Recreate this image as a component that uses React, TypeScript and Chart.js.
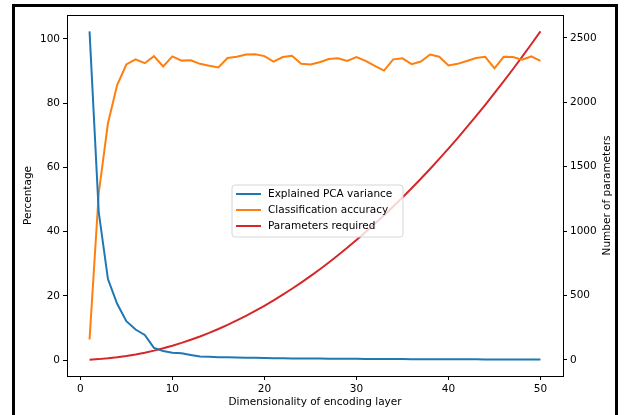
import React, { useEffect, useRef } from "react";
import { Chart, registerables } from "chart.js";

Chart.register(...registerables);

const dims = [1, 2, 3, 4, 5, 6, 7, 8, 9, 10, 11, 12, 13, 14, 15, 16, 17, 18, 19, 20, 21, 22, 23, 24, 25, 26, 27, 28, 29, 30, 31, 32, 33, 34, 35, 36, 37, 38, 39, 40, 41, 42, 43, 44, 45, 46, 47, 48, 49, 50];

const pcaVariance = [102.3, 46, 25.2, 17.5, 12.1, 9.5, 7.8, 3.8, 2.8, 2.3, 2.1, 1.6, 1.1, 1.0, 0.9, 0.85, 0.8, 0.75, 0.7, 0.68, 0.6, 0.55, 0.52, 0.5, 0.48, 0.46, 0.44, 0.42, 0.4, 0.38, 0.36, 0.35, 0.33, 0.32, 0.3, 0.29, 0.28, 0.27, 0.26, 0.25, 0.24, 0.23, 0.22, 0.21, 0.2, 0.19, 0.18, 0.17, 0.16, 0.15];

const accuracy = [6.4, 52, 73.7, 85.6, 92.0, 93.6, 92.4, 94.6, 91.4, 94.5, 93.2, 93.3, 92.2, 91.6, 91.1, 94.0, 94.4, 95.1, 95.2, 94.6, 92.9, 94.3, 94.7, 92.2, 92.0, 92.7, 93.7, 93.9, 93.1, 94.3, 93.1, 91.6, 90.1, 93.6, 93.9, 92.1, 92.9, 95.1, 94.4, 91.7, 92.2, 93.1, 94.0, 94.4, 90.8, 94.4, 94.3, 93.5, 94.5, 93.1];

const parameters = [2, 6, 12, 20, 30, 42, 56, 72, 90, 110, 132, 156, 182, 210, 240, 272, 306, 342, 380, 420, 462, 506, 552, 600, 650, 702, 756, 812, 870, 930, 992, 1056, 1122, 1190, 1260, 1332, 1406, 1482, 1560, 1640, 1722, 1806, 1892, 1980, 2070, 2162, 2256, 2352, 2450, 2550];

const xTicks = [0, 10, 20, 30, 40, 50];
const leftTicks = [0, 20, 40, 60, 80, 100];
const rightTicks = [0, 500, 1000, 1500, 2000, 2500];

const seriesNames = ["Explained PCA variance", "Classification accuracy", "Parameters required"];
const seriesColors = ["#1f77b4", "#ff7f0e", "#d62728"];

const xTitle = "Dimensionality of encoding layer";
const leftTitle = "Percentage";
const rightTitle = "Number of parameters";

const FONT = "DejaVu Sans";

const decorPlugin = {
  id: "decor",
  afterDraw(chart: any) {
    const { ctx, chartArea } = chart;
    const ca = chartArea;
    ctx.save();
    ctx.strokeStyle = "#000";
    ctx.lineWidth = 1;
    ctx.strokeRect(Math.round(ca.left) + 0.5, Math.round(ca.top) + 0.5, Math.round(ca.right - ca.left), Math.round(ca.bottom - ca.top));

    ctx.fillStyle = "#000";
    ctx.font = `10.5px '${FONT}'`;
    ctx.textAlign = "center";
    ctx.textBaseline = "middle";
    ctx.fillText(xTitle, (ca.left + ca.right) / 2, 402);
    ctx.save();
    ctx.translate(28, (ca.top + ca.bottom) / 2);
    ctx.rotate(-Math.PI / 2);
    ctx.fillText(leftTitle, 0, 0);
    ctx.restore();
    ctx.save();
    ctx.translate(607, (ca.top + ca.bottom) / 2);
    ctx.rotate(-Math.PI / 2);
    ctx.fillText(rightTitle, 0, 0);
    ctx.restore();

    const bx = ca.left + 165;
    const by = ca.top + 170;
    const bw = 171;
    const bh = 52;
    const r = 3;
    ctx.beginPath();
    ctx.moveTo(bx + r, by);
    ctx.lineTo(bx + bw - r, by);
    ctx.quadraticCurveTo(bx + bw, by, bx + bw, by + r);
    ctx.lineTo(bx + bw, by + bh - r);
    ctx.quadraticCurveTo(bx + bw, by + bh, bx + bw - r, by + bh);
    ctx.lineTo(bx + r, by + bh);
    ctx.quadraticCurveTo(bx, by + bh, bx, by + bh - r);
    ctx.lineTo(bx, by + r);
    ctx.quadraticCurveTo(bx, by, bx + r, by);
    ctx.closePath();
    ctx.fillStyle = "rgba(255,255,255,0.8)";
    ctx.fill();
    ctx.strokeStyle = "#d6d6d6";
    ctx.lineWidth = 1;
    ctx.stroke();
    ctx.textAlign = "left";
    ctx.textBaseline = "middle";
    ctx.font = `10.5px '${FONT}'`;
    seriesNames.forEach((name, i) => {
      const yy = by + 9 + i * 16;
      ctx.strokeStyle = seriesColors[i];
      ctx.lineWidth = 2;
      ctx.beginPath();
      ctx.moveTo(bx + 4, yy);
      ctx.lineTo(bx + 29, yy);
      ctx.stroke();
      ctx.fillStyle = "#000";
      ctx.fillText(name, bx + 36, yy + 0.5);
    });
    ctx.restore();
  },
};

function mkPoints(vals: number[]) {
  return dims.map((d, i) => ({ x: d, y: vals[i] }));
}

export default function App() {
  const ref = useRef<HTMLCanvasElement | null>(null);
  useEffect(() => {
    if (!ref.current) return;
    const tickFont = { family: FONT, size: 10.5 };
    const gridOpts = { display: true, drawOnChartArea: false, drawTicks: true, tickLength: 4, color: "#000", lineWidth: 1 };
    const fmt = (v: any) => String(v);
    const chart = new Chart(ref.current, {
      type: "line",
      data: {
        datasets: [
          { label: seriesNames[0], data: mkPoints(pcaVariance), borderColor: seriesColors[0], backgroundColor: seriesColors[0], borderWidth: 2, pointRadius: 0, yAxisID: "y", tension: 0 },
          { label: seriesNames[1], data: mkPoints(accuracy), borderColor: seriesColors[1], backgroundColor: seriesColors[1], borderWidth: 2, pointRadius: 0, yAxisID: "y", tension: 0 },
          { label: seriesNames[2], data: mkPoints(parameters), borderColor: seriesColors[2], backgroundColor: seriesColors[2], borderWidth: 2, pointRadius: 0, yAxisID: "y1", tension: 0 },
        ],
      },
      options: {
        responsive: false,
        animation: false,
        layout: { padding: { top: 15, left: 0, right: 0, bottom: 0 } },
        plugins: { legend: { display: false }, tooltip: { enabled: false } },
        scales: {
          x: {
            type: "linear",
            position: "bottom",
            min: -1.45,
            max: 52.45,
            afterBuildTicks: (s: any) => { s.ticks = xTicks.map((v) => ({ value: v })); },
            afterFit: (s: any) => { s.height = 39; },
            ticks: { font: tickFont, color: "#000", padding: 3, maxRotation: 0, autoSkip: false, callback: fmt },
            grid: gridOpts,
            border: { display: false },
          },
          y: {
            type: "linear",
            position: "left",
            min: -4.96,
            max: 107.4,
            afterBuildTicks: (s: any) => { s.ticks = leftTicks.map((v) => ({ value: v })); },
            afterFit: (s: any) => { s.width = 67; },
            ticks: { font: tickFont, color: "#000", padding: 3, autoSkip: false, callback: fmt },
            grid: gridOpts,
            border: { display: false },
          },
          y1: {
            type: "linear",
            position: "right",
            min: -125,
            max: 2677,
            afterBuildTicks: (s: any) => { s.ticks = rightTicks.map((v) => ({ value: v })); },
            afterFit: (s: any) => { s.width = 62; },
            ticks: { font: tickFont, color: "#000", padding: 3, autoSkip: false, callback: fmt },
            grid: gridOpts,
            border: { display: false },
          },
        },
      } as any,
      plugins: [decorPlugin],
    });
    return () => chart.destroy();
  }, []);

  return (
    <div style={{ position: "absolute", left: 0, top: 0, width: 625, height: 415, background: "#fff", overflow: "hidden" }}>
      <canvas ref={ref} width={625} height={415} style={{ position: "absolute", left: 0, top: 0 }} />
      <div style={{ position: "absolute", left: 12, top: 4, width: 600, height: 430, border: "3px solid #000", pointerEvents: "none" }} />
    </div>
  );
}
